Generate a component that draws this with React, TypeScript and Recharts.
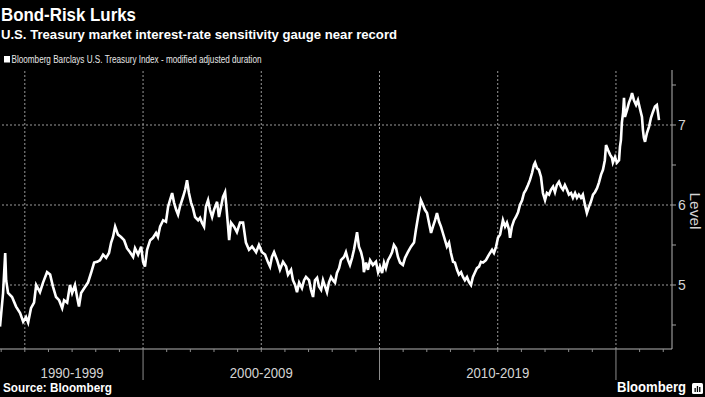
import React from 'react';
import { LineChart, Line, XAxis, YAxis, ReferenceLine } from 'recharts';

// Decimal-year dates and modified adjusted duration
const dates = [
  1993.95,1994.08,1994.17,1994.21,1994.29,1994.46,1994.63,1994.80,1994.93,1995.05,1995.14,1995.26,1995.39,1995.48,1995.64,1995.77,1995.94,1996.07,1996.19,1996.32,1996.45,1996.58,1996.66,1996.79,1996.91,1997.00,1997.12,1997.21,1997.29,1997.38,1997.51,1997.67,1997.80,1997.93,1998.06,1998.18,1998.31,1998.44,1998.56,1998.65,1998.73,1998.82,1998.94,1999.07,1999.20,
  1999.32,1999.45,1999.58,1999.66,1999.79,1999.92,2000.00,2000.08,2000.17,2000.30,2000.42,2000.55,2000.63,2000.72,2000.85,2000.97,2001.06,2001.14,2001.23,2001.31,2001.40,2001.48,2001.56,2001.69,2001.78,2001.86,2001.94,2002.03,2002.11,2002.20,2002.33,2002.41,2002.49,2002.58,2002.66,2002.75,2002.83,2002.92,2003.00,2003.13,2003.21,2003.30,2003.38,2003.47,2003.51,2003.59,2003.64,2003.72,2003.85,2003.97,2004.10,2004.23,
  2004.35,2004.48,2004.61,2004.78,2004.90,2005.03,2005.16,2005.29,2005.37,2005.45,2005.54,2005.67,2005.79,2005.92,2006.05,2006.13,2006.26,2006.34,2006.43,2006.51,2006.60,2006.72,2006.81,2006.89,2007.02,2007.10,2007.19,2007.27,2007.36,2007.44,2007.53,2007.61,2007.70,2007.78,2007.86,2007.95,2008.03,2008.12,2008.20,2008.29,2008.37,2008.50,2008.58,2008.67,2008.75,2008.84,2008.92,2009.01,2009.05,2009.13,2009.22,2009.30,
  2009.34,2009.43,2009.51,2009.60,2009.72,2009.85,2009.94,2010.02,2010.11,2010.19,2010.27,2010.36,2010.44,2010.53,2010.61,2010.70,2010.78,2010.87,2010.99,2011.08,2011.20,2011.33,2011.46,2011.54,2011.63,2011.71,2011.75,2011.84,2011.92,2012.01,2012.09,2012.18,2012.26,2012.35,2012.43,2012.52,2012.60,2012.68,2012.77,2012.85,2012.94,2013.02,2013.11,2013.19,2013.28,2013.36,2013.45,2013.53,2013.61,2013.70,2013.78,2013.87,2013.95,2014.04,2014.12,2014.21,2014.29,2014.38,
  2014.50,2014.63,2014.76,2014.84,2014.93,2015.01,2015.10,2015.14,2015.22,2015.31,2015.39,2015.48,2015.52,2015.60,2015.69,2015.77,2015.86,2015.94,2016.03,2016.11,2016.19,2016.28,2016.36,2016.45,2016.53,2016.58,2016.66,2016.74,2016.83,2016.91,2017.00,2017.08,2017.17,2017.25,2017.34,2017.42,2017.50,2017.59,2017.67,2017.76,2017.84,2017.93,2018.01,2018.10,2018.18,2018.27,2018.35,2018.43,2018.52,2018.60,2018.69,2018.77,2018.86,2018.94,2019.03,2019.11,2019.20,2019.28,2019.37,2019.45,
  2019.53,2019.58,2019.66,2019.75,2019.83,2019.87,2019.96,2020.04,2020.13,2020.17,2020.21,2020.25,2020.30,2020.34,2020.38,2020.47,2020.55,2020.63,2020.68,2020.76,2020.85,2020.93,2021.01,2021.10,2021.14,2021.18,2021.23,2021.31,2021.40,2021.48,2021.56,2021.65,2021.73,2021.78,2021.82,
];

const duration = [
  4.48,4.90,5.40,5.06,4.90,4.85,4.73,4.65,4.54,4.60,4.53,4.71,4.78,5.00,4.91,5.03,5.16,5.13,4.98,4.85,4.81,4.71,4.81,4.78,5.00,4.90,5.00,4.85,4.73,4.90,4.96,5.03,5.15,5.28,5.29,5.31,5.38,5.34,5.40,5.53,5.60,5.73,5.63,5.60,5.56,
  5.46,5.41,5.35,5.46,5.38,5.48,5.29,5.23,5.44,5.56,5.59,5.65,5.60,5.73,5.81,5.79,5.98,6.06,6.15,6.03,5.94,5.88,5.98,6.10,6.19,6.31,6.15,6.03,5.96,5.85,5.81,5.84,5.78,5.73,5.98,6.06,5.94,5.85,5.94,6.04,5.85,5.98,6.10,6.16,6.03,5.75,5.56,5.78,5.73,5.66,5.78,5.78,
  5.53,5.44,5.48,5.41,5.50,5.41,5.38,5.28,5.23,5.35,5.41,5.31,5.19,5.29,5.23,5.13,5.19,5.06,5.00,4.91,5.03,4.96,5.06,5.10,5.06,4.94,4.85,5.06,5.09,4.98,4.94,5.06,4.98,4.91,5.03,5.10,5.06,5.03,5.15,5.21,5.31,5.35,5.41,5.31,5.25,5.34,5.44,5.59,5.66,5.48,5.41,5.31,
  5.16,5.28,5.19,5.31,5.25,5.29,5.16,5.23,5.15,5.28,5.21,5.31,5.35,5.41,5.50,5.46,5.35,5.28,5.25,5.34,5.41,5.48,5.53,5.69,5.85,5.98,6.06,6.00,5.94,5.90,5.78,5.65,5.73,5.81,5.90,5.79,5.73,5.65,5.56,5.48,5.53,5.40,5.29,5.28,5.19,5.13,5.16,5.10,5.06,5.10,5.04,5.00,5.10,5.16,5.21,5.23,5.29,5.28,
  5.31,5.38,5.44,5.40,5.48,5.59,5.63,5.69,5.81,5.73,5.78,5.69,5.59,5.73,5.81,5.85,5.91,6.00,6.06,6.15,6.19,6.25,6.31,6.40,6.50,6.53,6.46,6.44,6.35,6.15,6.06,6.15,6.13,6.19,6.23,6.16,6.25,6.29,6.23,6.19,6.25,6.19,6.13,6.15,6.09,6.15,6.09,6.13,6.09,6.13,6.00,5.90,5.98,6.04,6.13,6.16,6.21,6.28,6.38,6.44,
  6.56,6.75,6.69,6.63,6.59,6.53,6.60,6.53,6.56,6.73,6.81,7.03,7.15,7.34,7.10,7.19,7.28,7.34,7.40,7.31,7.25,7.31,7.21,7.10,6.94,6.84,6.79,6.90,6.98,7.09,7.16,7.23,7.25,7.15,7.06,
];

const yearTicks = [
  1994,1995,1996,1997,1998,1999,2000,2001,2002,2003,2004,2005,2006,2007,2008,
  2009,2010,2011,2012,2013,2014,2015,2016,2017,2018,2019,2020,2021,2022,
];
const decadeLabels = ['1990-1999', '2000-2009', '2010-2019'];
const decadeLabelAt = [1997, 2005, 2015];
const decadeBreaks = [2000, 2010, 2020];
const gridYears = [1995, 2000, 2005, 2010, 2015, 2020];
const gridLevels = [5, 6, 7];
const levelTicks = [4.5, 5, 5.5, 6, 6.5, 7, 7.5];
const levelLabels = [5, 6, 7];

const n = Math.min(dates.length, duration.length);
const data = dates.slice(0, n).map((t, i) => ({ t, v: duration[i] }));

const FONT = '"Liberation Sans", Arial, sans-serif';

const XTick = (props: any) => {
  const { x, y, payload } = props;
  const v = payload.value;
  const idx = decadeLabelAt.indexOf(v);
  const isBreak = decadeBreaks.includes(v);
  return (
    <g>
      <line x1={x} x2={x} y1={y} y2={isBreak ? y + 31 : y + 3} stroke="#8c8c8c" strokeWidth={1} />
      {idx >= 0 && (
        <text x={x} y={y + 29} textAnchor="middle" fill="#d4d4d4" fontSize={14} fontFamily={FONT}
          textLength={63} lengthAdjust="spacingAndGlyphs">
          {decadeLabels[idx]}
        </text>
      )}
    </g>
  );
};

const YTick = (props: any) => {
  const { x, y, payload } = props;
  const v = payload.value;
  const major = levelLabels.includes(v);
  return (
    <g>
      <line x1={x} x2={x + 4} y1={y} y2={y} stroke="#a0a0a0" strokeWidth={1} />
      {major && (
        <text x={x + 6} y={y} dy="0.36em" fill="#d4d4d4" fontSize={14} fontFamily={FONT}>
          {v}
        </text>
      )}
    </g>
  );
};

export default function App() {
  return (
    <div style={{ position: 'fixed', left: 0, top: 0, width: 705, height: 397, background: '#000', overflow: 'hidden' }}>
      <div style={{ position: 'absolute', left: 0, top: 0 }}>
        <LineChart width={705} height={397} data={data} margin={{ top: 70, right: 0, bottom: 0, left: 0 }}>
          <XAxis dataKey="t" type="number" domain={[1993.95, 2022.37]} allowDataOverflow ticks={yearTicks}
            interval={0} tick={<XTick />} tickLine={false} tickSize={0} tickMargin={0} height={48}
            axisLine={{ stroke: '#b4b4b4', strokeWidth: 1 }} />
          <YAxis orientation="right" type="number" domain={[4.2, 7.6875]} allowDataOverflow ticks={levelTicks}
            interval={0} tick={<YTick />} tickLine={false} tickSize={0} tickMargin={0} width={33}
            axisLine={{ stroke: '#b4b4b4', strokeWidth: 1 }} />
          {gridLevels.map((g) => (
            <ReferenceLine key={'h' + g} y={g} stroke="#9a9a9a" strokeWidth={1} strokeDasharray="2 2" />
          ))}
          {gridYears.map((g) => (
            <ReferenceLine key={'v' + g} x={g} stroke="#9a9a9a" strokeWidth={1} strokeDasharray="2 2" />
          ))}
          <Line dataKey="v" type="linear" stroke="#ffffff" strokeWidth={2.6} dot={false} activeDot={false}
            isAnimationActive={false} />
        </LineChart>
      </div>
      <svg width={705} height={397} style={{ position: 'absolute', left: 0, top: 0, pointerEvents: 'none' }}
        fontFamily={FONT}>
        <text x={1} y={21} fill="#fff" fontSize={18} fontWeight="bold" textLength={135} lengthAdjust="spacingAndGlyphs">
          Bond-Risk Lurks
        </text>
        <text x={1} y={39} fill="#fff" fontSize={13.5} fontWeight="bold" textLength={396} lengthAdjust="spacingAndGlyphs">
          U.S. Treasury market interest-rate sensitivity gauge near record
        </text>
        <rect x={4} y={56} width={6} height={6.5} fill="#fff" />
        <text x={11.5} y={63} fill="#e8e8e8" fontSize={11.5} textLength={250} lengthAdjust="spacingAndGlyphs">
          Bloomberg Barclays U.S. Treasury Index - modified adjusted duration
        </text>
        <text x={695} y={211} fill="#d4d4d4" fontSize={15} textAnchor="middle" dominantBaseline="central"
          transform="rotate(90 695 211)" textLength={37} lengthAdjust="spacingAndGlyphs">
          Level
        </text>
        <text x={3} y={392} fill="#fff" fontSize={12} fontWeight="bold" textLength={109} lengthAdjust="spacingAndGlyphs">
          Source: Bloomberg
        </text>
        <text x={617} y={392} fill="#fff" fontSize={14} fontWeight="bold" textLength={69} lengthAdjust="spacingAndGlyphs">
          Bloomberg
        </text>
        <rect x={692} y={383} width={11} height={11} rx={1.5} fill="#fff" />
        <rect x={694.5} y={388} width={1.3} height={4} fill="#000" />
        <rect x={696.8} y={386} width={1.3} height={6} fill="#000" />
        <rect x={699.1} y={387} width={1.3} height={5} fill="#000" />
      </svg>
    </div>
  );
}
